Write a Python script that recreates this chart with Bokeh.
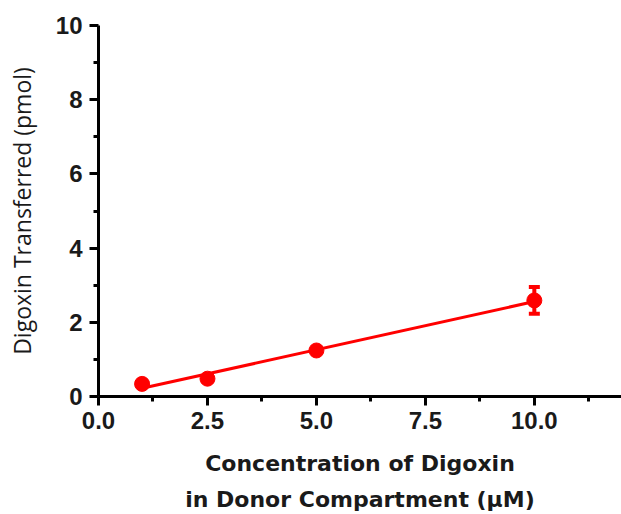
import numpy as np
from bokeh.plotting import figure
from bokeh.models import ColumnDataSource, Whisker, TeeHead, FixedTicker, NumeralTickFormatter, Range1d
from bokeh.embed import file_html
from bokeh.resources import INLINE

conc = [1.0, 2.5, 5.0, 10.0]
transferred = [0.34, 0.48, 1.24, 2.59]
sem = [0.0, 0.0, 0.0, 0.36]
x_ticks = [0, 2.5, 5, 7.5, 10]
y_ticks = [0, 2, 4, 6, 8, 10]

RED = "#ff0000"
FONT = "Liberation Sans"

p = figure(width=621, height=514, output_backend="svg", toolbar_location=None,
           x_range=Range1d(0, 12.0), y_range=Range1d(0, 10),
           min_border_left=98, min_border_right=0, min_border_top=25, min_border_bottom=117)
p.outline_line_color = None
p.grid.visible = False

lower = [t - s for t, s in zip(transferred, sem)]
upper = [t + s for t, s in zip(transferred, sem)]
src = ColumnDataSource(dict(x=conc, y=transferred, lo=lower, hi=upper))

slope, intercept = np.polyfit(conc, transferred, 1)
fx = [min(conc), max(conc)]
fy = [slope * v + intercept for v in fx]
p.line(fx, fy, line_color=RED, line_width=3)

w = Whisker(source=src, base="x", lower="lo", upper="hi", line_color=RED, line_width=4,
            upper_head=TeeHead(size=11, line_color=RED, line_width=4),
            lower_head=TeeHead(size=11, line_color=RED, line_width=4))
p.add_layout(w)
p.scatter("x", "y", source=src, size=15, fill_color=RED, line_color=RED)

for ax in (p.xaxis[0], p.yaxis[0]):
    ax.axis_line_color = "black"
    ax.axis_line_width = 3
    ax.major_tick_line_color = "black"
    ax.minor_tick_line_color = "black"
    ax.major_tick_line_width = 3
    ax.minor_tick_line_width = 3
    ax.major_tick_out = 9
    ax.major_tick_in = 0
    ax.minor_tick_out = 5
    ax.minor_tick_in = 0
    ax.major_label_text_font = FONT
    ax.major_label_text_font_style = "bold"
    ax.major_label_text_font_size = "24px"
    ax.major_label_text_color = "#1a1a1a"
    ax.axis_label_text_color = "#1a1a1a"

p.xaxis.bounds = (0, 12)
p.yaxis.bounds = (0, 10)
p.xaxis.ticker = FixedTicker(ticks=x_ticks, minor_ticks=[1.25, 3.75, 6.25, 8.75, 11.25])
p.yaxis.ticker = FixedTicker(ticks=y_ticks, minor_ticks=[1, 3, 5, 7, 9])
p.xaxis.formatter = NumeralTickFormatter(format="0.0")
p.xaxis.major_label_standoff = 6
p.yaxis.major_label_standoff = 7

p.xaxis.axis_label = "Concentration of Digoxin\nin Donor Compartment (\u00b5M)"
p.xaxis.axis_label_text_font = "DejaVu Sans"
p.xaxis.axis_label_text_font_style = "bold"
p.xaxis.axis_label_text_font_size = "22px"
p.xaxis.axis_label_text_line_height = 1.45
p.xaxis.axis_label_standoff = 19

p.yaxis.axis_label = "Digoxin Transferred (pmol)"
p.yaxis.axis_label_text_font = "Open Sans"
p.yaxis.axis_label_text_font_style = "normal"
p.yaxis.axis_label_text_font_size = "23px"
p.yaxis.axis_label_standoff = 15

open("out.html", "w").write(file_html(p, INLINE))
